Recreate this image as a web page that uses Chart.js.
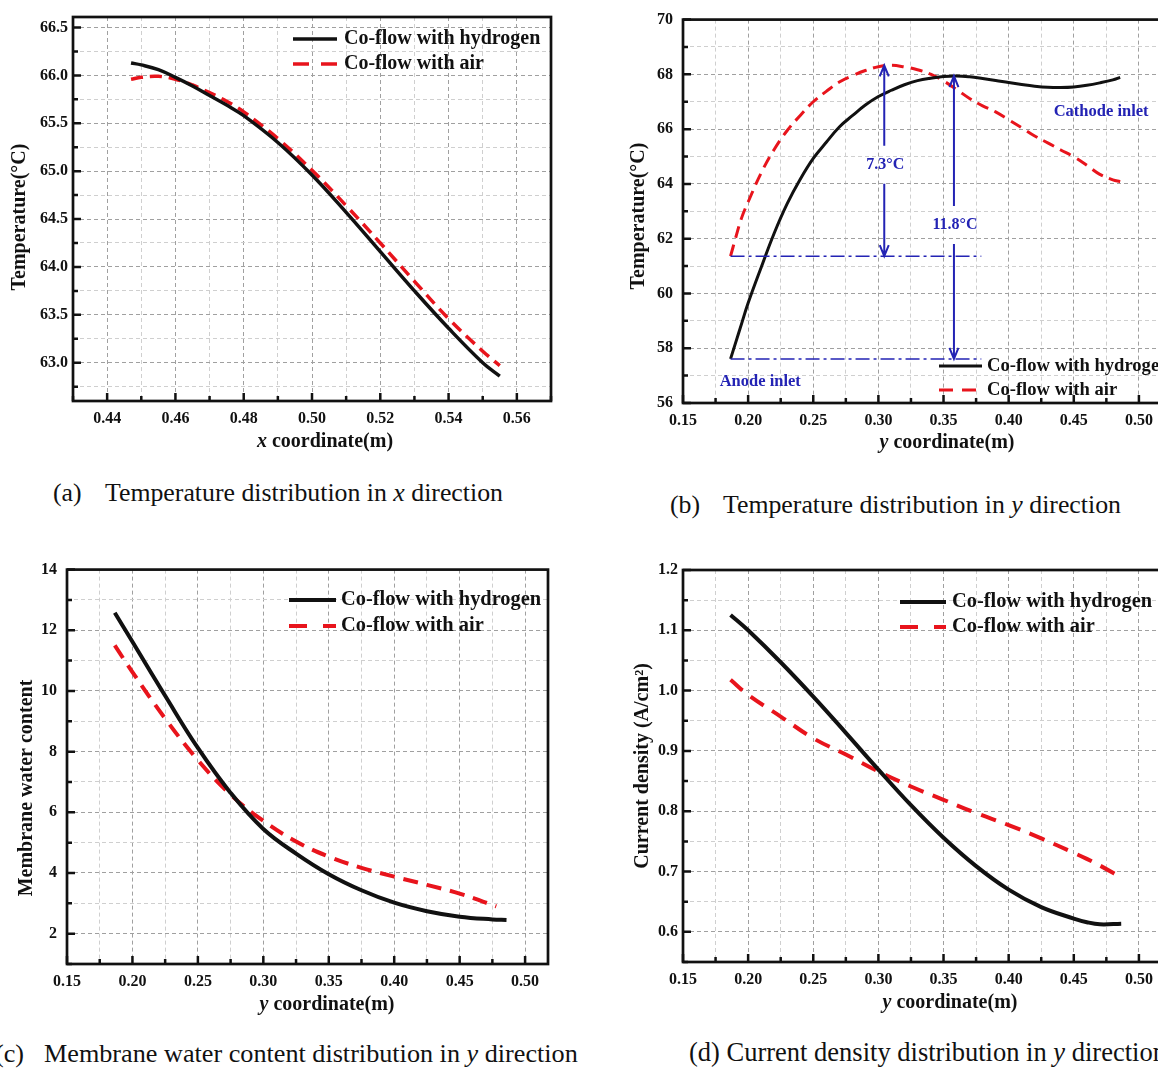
<!DOCTYPE html>
<html>
<head>
<meta charset="utf-8">
<title>Temperature, membrane water content and current density distributions</title>
<script src="https://cdn.jsdelivr.net/npm/chart.js@4.4.1/dist/chart.umd.min.js"></script>
<style>
  html, body { margin: 0; padding: 0; background: #fff; overflow: hidden; }
  body { position: relative; width: 1158px; height: 1072px; }
  canvas { position: absolute; }
  .cap {
    position: absolute;
    font-family: "Liberation Serif", "Times New Roman", serif;
    font-size: 25.8px;
    line-height: 1;
    white-space: nowrap;
    color: #111;
  }
  .cap.mid { font-size: 26.2px; }
  .cap.big { font-size: 26.5px; }
</style>
</head>
<body>
<canvas id="tempX" width="580" height="470" style="left:0;top:0"></canvas>
<canvas id="tempY" width="600" height="470" style="left:600px;top:0"></canvas>
<canvas id="waterY" width="570" height="480" style="left:0;top:550px"></canvas>
<canvas id="currentY" width="600" height="480" style="left:600px;top:550px"></canvas>

<div class="cap" style="left:53px;top:480px">(a)</div>
<div class="cap" style="left:105px;top:480px">Temperature distribution in <i>x</i> direction</div>
<div class="cap" style="left:670px;top:492px">(b)</div>
<div class="cap" style="left:723px;top:492px">Temperature distribution in <i>y</i> direction</div>
<div class="cap mid" style="left:-5px;top:1041px">(c)</div>
<div class="cap mid" style="left:44px;top:1041px">Membrane water content distribution in <i>y</i> direction</div>
<div class="cap big" style="left:689px;top:1039px">(d) Current density distribution in <i>y</i> direction</div>

<script>
// (a) temperature along x
const aX = [0.447, 0.450, 0.455, 0.460, 0.465, 0.470, 0.475, 0.480, 0.490, 0.500, 0.510, 0.520, 0.530, 0.540, 0.550, 0.555];
const aHydrogen = [66.13, 66.11, 66.06, 65.98, 65.89, 65.79, 65.69, 65.58, 65.30, 64.96, 64.57, 64.16, 63.75, 63.36, 63.00, 62.86];
const aAir = [65.96, 65.98, 65.99, 65.96, 65.90, 65.82, 65.73, 65.62, 65.34, 65.01, 64.64, 64.25, 63.85, 63.46, 63.12, 62.97];

// (b) temperature along y
const bY = [0.1865, 0.19, 0.195, 0.20, 0.21, 0.22, 0.23, 0.24, 0.25, 0.26, 0.27, 0.28, 0.29, 0.30, 0.31, 0.32, 0.33,
            0.34, 0.35, 0.36, 0.37, 0.38, 0.39, 0.40, 0.41, 0.42, 0.43, 0.44, 0.45, 0.46, 0.47, 0.48, 0.4856];
const bHydrogen = [57.61, 58.14, 58.90, 59.65, 60.95, 62.20, 63.28, 64.17, 64.93, 65.52, 66.08, 66.49, 66.88, 67.19, 67.42, 67.62, 67.77,
                   67.86, 67.92, 67.94, 67.91, 67.85, 67.78, 67.70, 67.63, 67.57, 67.53, 67.52, 67.54, 67.60, 67.69, 67.80, 67.89];
const bAir = [61.36, 61.96, 62.76, 63.34, 64.40, 65.26, 65.95, 66.50, 67.00, 67.38, 67.72, 67.95, 68.14, 68.28, 68.33, 68.27, 68.17,
              68.01, 67.76, 67.45, 67.12, 66.85, 66.63, 66.34, 66.05, 65.75, 65.50, 65.24, 64.99, 64.68, 64.35, 64.15, 64.08];

// (b) annotations: inlet levels and the two temperature differences
const bGuideLevels = [61.36, 57.61];
const bGuideSpan = [0.1865, 0.379];
const bDiffX = [0.3045, 0.358];
const bDiffTop = [68.33, 67.94];
const bDiffBottom = [61.36, 57.61];
const bDiffText = ['7.3°C', '11.8°C'];
const bDiffTextAt = [64.7, 62.5];
const bInletText = ['Cathode inlet', 'Anode inlet'];
const bInletX = [0.471, 0.2093];
const bInletY = [66.64, 56.77];

// (c) membrane water content along y
const cY = [0.1865, 0.20, 0.225, 0.25, 0.275, 0.30, 0.325, 0.35, 0.375, 0.40, 0.425, 0.45, 0.475, 0.4858];
const cHydrogen = [12.58, 11.62, 9.84, 8.12, 6.64, 5.45, 4.64, 3.96, 3.43, 3.02, 2.74, 2.56, 2.47, 2.45];
const cAirY = [0.1865, 0.20, 0.225, 0.25, 0.275, 0.30, 0.325, 0.35, 0.375, 0.40, 0.425, 0.45, 0.478];
const cAir = [11.50, 10.62, 9.09, 7.72, 6.58, 5.72, 5.04, 4.54, 4.17, 3.88, 3.61, 3.32, 2.90];

// (d) current density along y
const dY = [0.1865, 0.20, 0.225, 0.25, 0.275, 0.30, 0.325, 0.35, 0.375, 0.40, 0.425, 0.45, 0.46, 0.47, 0.4864];
const dHydrogen = [1.1255, 1.100, 1.047, 0.990, 0.930, 0.869, 0.810, 0.756, 0.709, 0.670, 0.641, 0.622, 0.616, 0.6125, 0.6135];
const dAir = [1.018, 0.993, 0.957, 0.921, 0.894, 0.866, 0.841, 0.819, 0.797, 0.777, 0.755, 0.731, 0.721, 0.710, 0.690];

const serif = '"Liberation Serif", "Times New Roman", serif';
const bold = 'bold 20px ' + serif;
const italicBold = 'italic bold 20px ' + serif;
const ink = '#111';
const red = '#e8141c';
const blue = '#2323b4';

function isMajor(v, major) {
  const r = v / major;
  return Math.abs(r - Math.round(r)) < 1e-6;
}

function axis(min, max, step, major, digits, size, labelPad) {
  return {
    type: 'linear',
    min: min,
    max: max,
    afterFit: (s) => { if (s.isHorizontal()) s.height = size; else s.width = size; },
    ticks: {
      stepSize: step,
      autoSkip: false,
      maxRotation: 0,
      includeBounds: false,
      padding: labelPad,
      color: ink,
      font: { family: serif, size: 16, weight: 'bold' },
      callback: (v) => isMajor(v, major) ? v.toFixed(digits) : ''
    },
    grid: {
      drawTicks: false,
      lineWidth: 1,
      color: (c) => (c.tick && isMajor(c.tick.value, major)) ? '#a0a0a0' : '#cfcfcf'
    },
    border: { display: false, dash: [4, 3] }
  };
}

function lineSet(label, xs, ys, color, width, dash) {
  return {
    label: label,
    data: xs.map((x, i) => ({ x: x, y: ys[i] })),
    borderColor: color,
    borderWidth: width,
    borderDash: dash || [],
    pointRadius: 0,
    fill: false,
    tension: 0.4
  };
}

function baseOptions(top, right, xScale, yScale) {
  return {
    responsive: false,
    animation: false,
    devicePixelRatio: 1,
    layout: { padding: { top: top, right: right, left: 0, bottom: 0 } },
    plugins: { legend: { display: false }, tooltip: { enabled: false } },
    scales: { x: xScale, y: yScale }
  };
}

// box around the plot and inward tick marks
const frame = {
  id: 'frame',
  afterDraw(chart) {
    const { ctx, chartArea: a, scales } = chart;
    ctx.save();
    ctx.strokeStyle = ink;
    ctx.lineWidth = 2.5;
    ctx.beginPath();
    scales.x.ticks.forEach((t) => {
      const p = scales.x.getPixelForValue(t.value);
      ctx.moveTo(p, a.bottom);
      ctx.lineTo(p, a.bottom - (t.label ? 8 : 5));
    });
    scales.y.ticks.forEach((t) => {
      const p = scales.y.getPixelForValue(t.value);
      ctx.moveTo(a.left, p);
      ctx.lineTo(a.left + (t.label ? 8 : 5), p);
    });
    ctx.stroke();
    ctx.lineWidth = 2.7;
    ctx.strokeRect(a.left, a.top, a.right - a.left, a.bottom - a.top);
    ctx.restore();
  }
};

// legend drawn as line samples next to the labels
function keyBox(x0, x1, tx, rows, dash, fontSize) {
  return {
    id: 'keyBox',
    afterDraw(chart) {
      const ctx = chart.ctx;
      ctx.save();
      ctx.font = 'bold ' + (fontSize || 20) + 'px ' + serif;
      ctx.textBaseline = 'middle';
      chart.data.datasets.forEach((ds, i) => {
        ctx.strokeStyle = ds.borderColor;
        ctx.lineWidth = ds.borderWidth;
        ctx.setLineDash(ds.borderDash.length ? dash : []);
        ctx.beginPath();
        ctx.moveTo(x0, rows[i]);
        ctx.lineTo(x1, rows[i]);
        ctx.stroke();
        ctx.setLineDash([]);
        ctx.fillStyle = ink;
        ctx.fillText(ds.label, tx, rows[i]);
      });
      ctx.restore();
    }
  };
}

function drawParts(ctx, parts, cx, cy, angle) {
  ctx.save();
  ctx.translate(cx, cy);
  ctx.rotate(angle);
  ctx.textBaseline = 'middle';
  ctx.fillStyle = ink;
  let total = 0;
  parts.forEach((p) => { ctx.font = p[0]; total += ctx.measureText(p[1]).width; });
  let x = -total / 2;
  parts.forEach((p) => {
    ctx.font = p[0];
    ctx.fillText(p[1], x, 0);
    x += ctx.measureText(p[1]).width;
  });
  ctx.restore();
}

// axis titles (with italic coordinate letter)
function axisNames(xParts, xcx, xcy, yParts, ycx, ycy) {
  return {
    id: 'axisNames',
    afterDraw(chart) {
      drawParts(chart.ctx, xParts, xcx, xcy, 0);
      drawParts(chart.ctx, yParts, ycx, ycy, -Math.PI / 2);
    }
  };
}

// (b) inlet guide lines, difference arrows and labels
const bNotes = {
  id: 'bNotes',
  afterDatasetsDraw(chart) {
    const { ctx, scales: { x, y } } = chart;
    ctx.save();
    ctx.strokeStyle = blue;
    ctx.fillStyle = blue;
    ctx.lineWidth = 1.5;
    ctx.setLineDash([14, 4, 3, 4]);
    bGuideLevels.forEach((v) => {
      const py = y.getPixelForValue(v);
      ctx.beginPath();
      ctx.moveTo(x.getPixelForValue(bGuideSpan[0]), py);
      ctx.lineTo(x.getPixelForValue(bGuideSpan[1]), py);
      ctx.stroke();
    });
    ctx.setLineDash([]);
    ctx.lineWidth = 2;
    ctx.font = 'bold 16px ' + serif;
    ctx.textAlign = 'center';
    ctx.textBaseline = 'middle';
    bDiffX.forEach((v, i) => {
      const px = x.getPixelForValue(v);
      const top = y.getPixelForValue(bDiffTop[i]);
      const bottom = y.getPixelForValue(bDiffBottom[i]);
      const mid = y.getPixelForValue(bDiffTextAt[i]);
      ctx.beginPath();
      ctx.moveTo(px, top);
      ctx.lineTo(px, mid - 19);
      ctx.moveTo(px, mid + 19);
      ctx.lineTo(px, bottom);
      ctx.moveTo(px - 4.5, top + 11);
      ctx.lineTo(px, top);
      ctx.lineTo(px + 4.5, top + 11);
      ctx.moveTo(px - 4.5, bottom - 11);
      ctx.lineTo(px, bottom);
      ctx.lineTo(px + 4.5, bottom - 11);
      ctx.stroke();
      ctx.fillText(bDiffText[i], px + 1, mid);
    });
    ctx.font = 'bold 16.5px ' + serif;
    bInletText.forEach((t, i) => {
      ctx.fillText(t, x.getPixelForValue(bInletX[i]), y.getPixelForValue(bInletY[i]));
    });
    ctx.restore();
  }
};

// (a) Temperature distribution in x direction
new Chart(document.getElementById('tempX'), {
  type: 'line',
  data: {
    datasets: [
      lineSet('Co-flow with hydrogen', aX, aHydrogen, ink, 3.5),
      lineSet('Co-flow with air', aX, aAir, red, 3.5, [12, 7])
    ]
  },
  options: baseOptions(17, 29, axis(0.43, 0.57, 0.01, 0.02, 2, 69, 8), axis(62.6, 66.61, 0.25, 0.5, 1, 73, 5)),
  plugins: [
    frame,
    keyBox(293, 337, 344, [39, 64], [16, 12]),
    axisNames([[italicBold, 'x'], [bold, ' coordinate(m)']], 325, 442, [[bold, 'Temperature(°C)']], 20, 217)
  ]
});

// (b) Temperature distribution in y direction
new Chart(document.getElementById('tempY'), {
  type: 'line',
  data: {
    datasets: [
      lineSet('Co-flow with hydrogen', bY, bHydrogen, ink, 3),
      lineSet('Co-flow with air', bY, bAir, red, 3, [12, 7])
    ]
  },
  options: baseOptions(12, 22, axis(0.15, 0.53, 0.025, 0.05, 2, 67, 8), axis(56, 70, 1, 2, 0, 83, 10)),
  plugins: [
    bNotes,
    frame,
    keyBox(339, 382, 387, [366, 390], [14, 9], 18.6),
    axisNames([[italicBold, 'y'], [bold, ' coordinate(m)']], 347, 443, [[bold, 'Temperature(°C)']], 39, 216)
  ]
});

// (c) Membrane water content distribution in y direction
new Chart(document.getElementById('waterY'), {
  type: 'line',
  data: {
    datasets: [
      lineSet('Co-flow with hydrogen', cY, cHydrogen, ink, 4),
      lineSet('Co-flow with air', cAirY, cAir, red, 4, [15, 9])
    ]
  },
  options: baseOptions(19, 22, axis(0.15, 0.5175, 0.025, 0.05, 2, 66, 8), axis(1, 14, 1, 2, 0, 67, 10)),
  plugins: [
    frame,
    keyBox(289, 336, 341, [50, 76], [18, 16], 20.4),
    axisNames([[italicBold, 'y'], [bold, ' coordinate(m)']], 327, 455, [[bold, 'Membrane water content']], 27, 238)
  ]
});

// (d) Current density distribution in y direction
new Chart(document.getElementById('currentY'), {
  type: 'line',
  data: {
    datasets: [
      lineSet('Co-flow with hydrogen', dY, dHydrogen, ink, 4),
      lineSet('Co-flow with air', dY, dAir, red, 4, [16, 10])
    ]
  },
  options: baseOptions(20, 22, axis(0.15, 0.53, 0.025, 0.05, 2, 68, 8), axis(0.55, 1.2, 0.05, 0.1, 1, 83, 5)),
  plugins: [
    frame,
    keyBox(300, 346, 352, [52, 77], [18, 16], 20.4),
    axisNames([[italicBold, 'y'], [bold, ' coordinate(m)']], 350, 453, [[bold, 'Current density (A/cm²)']], 43, 216)
  ]
});
</script>
</body>
</html>
